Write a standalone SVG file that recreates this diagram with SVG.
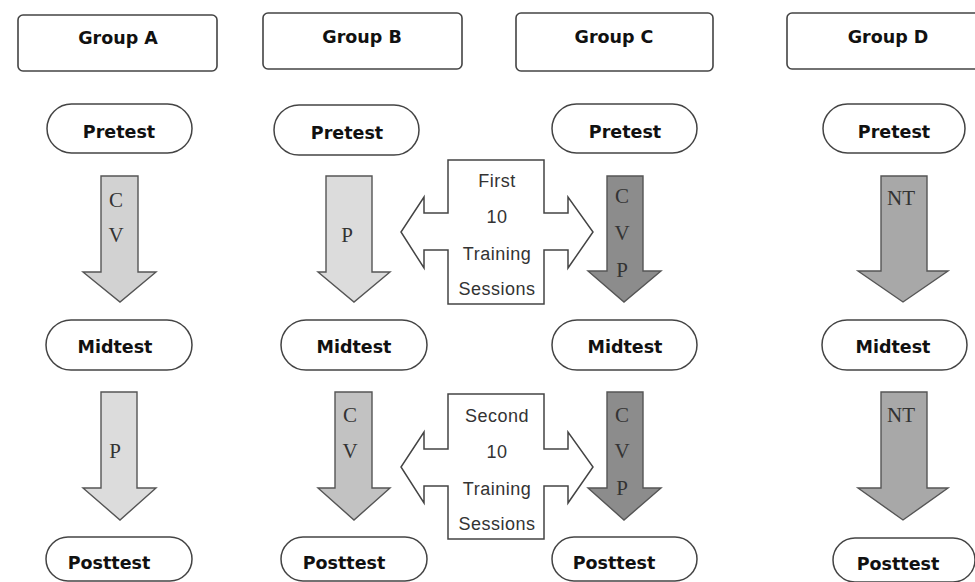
<svg xmlns="http://www.w3.org/2000/svg" width="975" height="582" viewBox="0 0 975 582">
<style>
.grp{fill:#fff;stroke:#444;stroke-width:1.6}
.pill{fill:#fff;stroke:#444;stroke-width:1.5}
.lbl{font-family:"DejaVu Sans",sans-serif;font-weight:bold;font-size:17.5px;fill:#111;text-anchor:middle}
.arr{stroke:#555;stroke-width:1.4}
.a1{fill:#d2d2d2}.a2{fill:#dcdcdc}.a3{fill:#c2c2c2}.a4{fill:#8c8c8c}.a5{fill:#a8a8a8}
.mono{font-family:"Liberation Serif","Times New Roman",serif;font-size:21px;fill:#333;text-anchor:middle}
.cross{fill:#fff;stroke:#444;stroke-width:1.5}
.ts{font-family:"Liberation Sans",Arial,sans-serif;font-size:18px;letter-spacing:0.5px;fill:#333;text-anchor:middle}
</style>
<rect width="975" height="582" fill="#fff"/>

<g id="groupA"><rect class="grp" x="18" y="15" width="199" height="56" rx="5"/><text class="lbl" x="118" y="44">Group A</text></g>
<g id="groupB"><rect class="grp" x="263" y="13" width="199" height="56" rx="5"/><text class="lbl" x="362" y="43">Group B</text></g>
<g id="groupC"><rect class="grp" x="516" y="13" width="197" height="58" rx="5"/><text class="lbl" x="614" y="43">Group C</text></g>
<g id="groupD"><rect class="grp" x="787" y="13" width="198" height="56" rx="5"/><text class="lbl" x="888" y="43">Group D</text></g>

<g id="pretestA"><rect class="pill" x="47" y="104" width="145" height="49" rx="24.5"/><text class="lbl" x="119" y="138">Pretest</text></g>
<g id="pretestB"><rect class="pill" x="274" y="105" width="145" height="50" rx="25"/><text class="lbl" x="347" y="139">Pretest</text></g>
<g id="pretestC"><rect class="pill" x="552" y="104" width="145" height="49" rx="24.5"/><text class="lbl" x="625" y="138">Pretest</text></g>
<g id="pretestD"><rect class="pill" x="823" y="104" width="142" height="49" rx="24.5"/><text class="lbl" x="894" y="138">Pretest</text></g>

<g id="midtestA"><rect class="pill" x="46" y="320" width="146" height="50" rx="25"/><text class="lbl" x="115" y="353">Midtest</text></g>
<g id="midtestB"><rect class="pill" x="281" y="320" width="146" height="50" rx="25"/><text class="lbl" x="354" y="353">Midtest</text></g>
<g id="midtestC"><rect class="pill" x="552" y="320" width="145" height="50" rx="25"/><text class="lbl" x="625" y="353">Midtest</text></g>
<g id="midtestD"><rect class="pill" x="822" y="320" width="145" height="50" rx="25"/><text class="lbl" x="893" y="353">Midtest</text></g>

<g id="posttestA"><rect class="pill" x="46" y="537" width="146" height="44" rx="22"/><text class="lbl" x="109" y="569">Posttest</text></g>
<g id="posttestB"><rect class="pill" x="281" y="537" width="146" height="44" rx="22"/><text class="lbl" x="344" y="569">Posttest</text></g>
<g id="posttestC"><rect class="pill" x="552" y="537" width="145" height="44" rx="22"/><text class="lbl" x="614" y="569">Posttest</text></g>
<g id="posttestD"><rect class="pill" x="833" y="538" width="142" height="44" rx="22"/><text class="lbl" x="898" y="570">Posttest</text></g>

<g id="connectors">
  <g id="arrowA1"><polygon class="arr a1" points="101,176 138,176 138,272 156,272 120,302 83,272 101,272"/><text class="mono" x="116" y="207">C</text><text class="mono" x="116" y="242">V</text></g>
  <g id="arrowB1"><polygon class="arr a2" points="326,176 372,176 372,272 390,272 354,302 318,272 326,272"/><text class="mono" x="347" y="242">P</text></g>
  <g id="arrowC1"><polygon class="arr a4" points="607,176 643,176 643,271 661,271 624,302 588,271 607,271"/><text class="mono" x="622" y="203">C</text><text class="mono" x="622" y="240">V</text><text class="mono" x="622" y="277">P</text></g>
  <g id="arrowD1"><polygon class="arr a5" points="881,176 927,176 927,271 948,271 903,302 858,271 881,271"/><text class="mono" x="901" y="205">NT</text></g>

  <g id="arrowA2"><polygon class="arr a2" points="101,392 137,392 137,488 156,488 120,520 83,488 101,488"/><text class="mono" x="115" y="458">P</text></g>
  <g id="arrowB2"><polygon class="arr a3" points="335,392 372,392 372,488 390,488 354,520 318,488 335,488"/><text class="mono" x="350" y="422">C</text><text class="mono" x="350" y="458">V</text></g>
  <g id="arrowC2"><polygon class="arr a4" points="607,392 643,392 643,488 661,488 624,520 588,488 607,488"/><text class="mono" x="622" y="422">C</text><text class="mono" x="622" y="458">V</text><text class="mono" x="622" y="495">P</text></g>
  <g id="arrowD2"><polygon class="arr a5" points="881,392 927,392 927,488 948,488 903,520 858,488 881,488"/><text class="mono" x="901" y="422">NT</text></g>
</g>

<g id="training1">
  <polygon class="cross" points="448,160 544,160 544,213 568,213 568,197 593,232 568,268 568,250 544,250 544,304 448,304 448,250 424,250 424,268 401,232 424,197 424,213 448,213"/>
  <text class="ts" x="497" y="187">First</text>
  <text class="ts" x="497" y="223">10</text>
  <text class="ts" x="497" y="260">Training</text>
  <text class="ts" x="497" y="295">Sessions</text>
</g>
<g id="training2">
  <polygon class="cross" points="448,394 544,394 544,449 568,449 568,432 593,467 568,503 568,486 544,486 544,539 448,539 448,486 424,486 424,503 401,467 424,432 424,449 448,449"/>
  <text class="ts" x="497" y="422">Second</text>
  <text class="ts" x="497" y="458">10</text>
  <text class="ts" x="497" y="495">Training</text>
  <text class="ts" x="497" y="530">Sessions</text>
</g>
</svg>
